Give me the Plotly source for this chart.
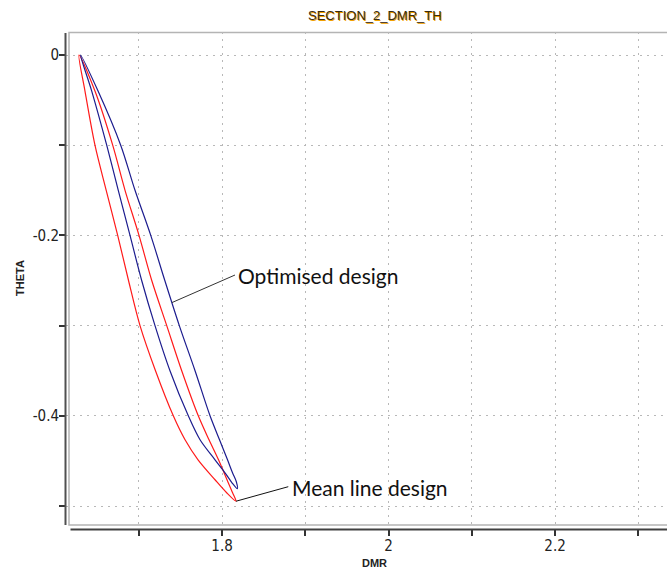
import numpy as np
import plotly.graph_objects as go

# ---------------------------------------------------------------------------
# Blade section 2: DMR (x) against THETA (y) for two designs.
# Each section is a closed loop: leading edge -> left side -> trailing edge
# -> right side -> leading edge.
# ---------------------------------------------------------------------------

# Mean line design
mean_le = (1.6282, 0.0)
mean_te = (1.8168, -0.4947)
mean_left_theta = [-0.04, -0.10, -0.15, -0.20, -0.25, -0.30, -0.35, -0.40, -0.4266, -0.4488, -0.4709, -0.4853]
mean_left_dmr = [1.6354, 1.6474, 1.6609, 1.6747, 1.6877, 1.7015, 1.7201, 1.7415, 1.7556, 1.7712, 1.7916, 1.8056]
mean_right_theta = [-0.04, -0.10, -0.15, -0.20, -0.25, -0.30, -0.35, -0.40, -0.4266, -0.4488, -0.4709, -0.4853]
mean_right_dmr = [1.6474, 1.6687, 1.6835, 1.7003, 1.7156, 1.7336, 1.7516, 1.7715, 1.7844, 1.7958, 1.8060, 1.8127]

# Optimised design
opt_le = (1.6300, 0.0)
opt_te = (1.8184, -0.4809)
opt_left_theta = [-0.04, -0.10, -0.15, -0.20, -0.25, -0.30, -0.35, -0.40, -0.4266, -0.4488, -0.4632, -0.4743]
opt_left_dmr = [1.6435, 1.6615, 1.6754, 1.6895, 1.7035, 1.7195, 1.7375, 1.7595, 1.7736, 1.7916, 1.8036, 1.8120]
opt_right_theta = [-0.04, -0.10, -0.15, -0.20, -0.25, -0.30, -0.35, -0.40, -0.4266, -0.4488, -0.4632, -0.4731]
opt_right_dmr = [1.6511, 1.6783, 1.6955, 1.7144, 1.7313, 1.7487, 1.7676, 1.7856, 1.7970, 1.8066, 1.8126, 1.8172]

# Axis ticks
x_ticks = [1.7, 1.8, 1.9, 2.0, 2.1, 2.2, 2.3]
x_tick_labels = ["", "1.8", "", "2", "", "2.2", ""]
y_ticks = [0.0, -0.1, -0.2, -0.3, -0.4, -0.5]
y_tick_labels = ["0", "", "-0.2", "", "-0.4", ""]

x_range = [1.6126, 2.3345]
y_range = [-0.5255, 0.0255]

# Callouts
opt_label_theta = -0.2745
opt_label_text_pos = (1.8156, -0.2439)
mean_label_text_pos = (1.8796, -0.4786)


def closed_loop(le, te, lt, ld, rt, rd):
    xs = [le[0]] + ld + [te[0]] + rd[::-1] + [le[0]]
    ys = [le[1]] + lt + [te[1]] + rt[::-1] + [le[1]]
    return xs, ys


W, H = 667, 570
ML, MR, MT, MB = 66, 0, 32, 41
PW, PH = W - ML - MR, H - MT - MB


def px_to_paper(px, py):
    return (px - ML) / PW, (H - MB - py) / PH


fig = go.Figure()

mx, my = closed_loop(mean_le, mean_te, mean_left_theta, mean_left_dmr,
                     mean_right_theta, mean_right_dmr)
fig.add_trace(go.Scatter(x=mx, y=my, mode="lines", name="Mean line design",
                         line=dict(color="#ff1a1a", width=1.2, shape="spline", smoothing=0.9),
                         hoverinfo="skip"))

ox, oy = closed_loop(opt_le, opt_te, opt_left_theta, opt_left_dmr,
                     opt_right_theta, opt_right_dmr)
fig.add_trace(go.Scatter(x=ox, y=oy, mode="lines", name="Optimised design",
                         line=dict(color="#1c1c8e", width=1.2, shape="spline", smoothing=0.9),
                         hoverinfo="skip"))

# anchor points of the callouts on the curves
opt_anchor_dmr = float(np.interp(opt_label_theta, opt_right_theta[::-1], opt_right_dmr[::-1]))
mean_anchor = mean_te

tick_font = dict(family="Liberation Sans Narrow, DejaVu Sans Condensed, Arial, sans-serif",
                 size=15, color="#222222")
grid_kw = dict(showgrid=True, gridcolor="#b8b8b8", gridwidth=1, griddash="2px,5px",
               zeroline=False, showline=False, ticks="outside", ticklen=6,
               tickwidth=1.5, tickcolor="#333333", tickfont=tick_font,
               ticklabelstandoff=-3)

fig.update_layout(
    width=W, height=H,
    margin=dict(l=ML, r=MR, t=MT, b=MB, pad=0),
    paper_bgcolor="white", plot_bgcolor="white",
    showlegend=False,
    xaxis=dict(range=x_range, tickmode="array", tickvals=x_ticks, ticktext=x_tick_labels,
               **grid_kw),
    yaxis=dict(range=y_range, tickmode="array", tickvals=y_ticks, ticktext=y_tick_labels,
               **grid_kw),
)

shapes = []
# plot frame
fx0, fy0 = px_to_paper(69, 525)
fx1, fy1 = px_to_paper(700, 32.5)
shapes.append(dict(type="rect", xref="paper", yref="paper", x0=fx0, y0=fy0, x1=fx1, y1=fy1,
                   line=dict(color="#b4b4b4", width=1.5), layer="below"))
# y axis line
ax0, ay0 = px_to_paper(65.5, 525)
ax1, ay1 = px_to_paper(65.5, 33)
shapes.append(dict(type="line", xref="paper", yref="paper", x0=ax0, y0=ay0, x1=ax1, y1=ay1,
                   line=dict(color="#505050", width=2)))
# x axis line
bx0, by0 = px_to_paper(70.5, 529.5)
bx1, by1 = px_to_paper(700, 529.5)
shapes.append(dict(type="line", xref="paper", yref="paper", x0=bx0, y0=by0, x1=bx1, y1=by1,
                   line=dict(color="#404040", width=1.8)))
# callout connectors
shapes.append(dict(type="line", xref="x", yref="y", x0=opt_anchor_dmr, y0=opt_label_theta,
                   x1=opt_label_text_pos[0], y1=opt_label_text_pos[1],
                   line=dict(color="#333333", width=1)))
shapes.append(dict(type="line", xref="x", yref="y", x0=mean_anchor[0], y0=mean_anchor[1],
                   x1=mean_label_text_pos[0], y1=mean_label_text_pos[1],
                   line=dict(color="#111111", width=1)))
fig.update_layout(shapes=shapes)

annotations = []
# title with orange shadow
tx, ty = px_to_paper(375, 15)
title_font = "Liberation Sans, Arial, sans-serif"
annotations.append(dict(text="SECTION_2_DMR_TH", xref="paper", yref="paper", x=tx, y=ty,
                        xanchor="center", yanchor="middle",
                        xshift=1, yshift=-1, showarrow=False,
                        font=dict(family=title_font, size=13, color="#f0a000")))
annotations.append(dict(text="SECTION_2_DMR_TH", xref="paper", yref="paper", x=tx, y=ty,
                        xanchor="center", yanchor="middle", showarrow=False,
                        font=dict(family=title_font, size=13, color="#3a2a10")))
# axis titles
yx, yy = px_to_paper(20, 278)
annotations.append(dict(text="<b>THETA</b>", xref="paper", yref="paper", x=yx, y=yy,
                        xanchor="center", yanchor="middle",
                        textangle=-90, showarrow=False,
                        font=dict(family="Liberation Sans, Arial, sans-serif", size=11, color="#222")))
xx, xy = px_to_paper(374, 563)
annotations.append(dict(text="<b>DMR</b>", xref="paper", yref="paper", x=xx, y=xy,
                        xanchor="center", yanchor="middle", showarrow=False,
                        font=dict(family="Liberation Sans, Arial, sans-serif", size=11, color="#222")))
# callout texts
label_font = dict(family="Lato, Noto Sans, sans-serif", size=21, color="#111111")
annotations.append(dict(text="Optimised design", xref="x", yref="y",
                        x=opt_label_text_pos[0], y=opt_label_text_pos[1],
                        xanchor="left", yanchor="middle", xshift=1, showarrow=False,
                        font=label_font))
annotations.append(dict(text="Mean line design", xref="x", yref="y",
                        x=mean_label_text_pos[0], y=mean_label_text_pos[1],
                        xanchor="left", yanchor="middle", xshift=2, yshift=-1, showarrow=False,
                        font=label_font))
fig.update_layout(annotations=annotations)

fig.write_html("out.html")
